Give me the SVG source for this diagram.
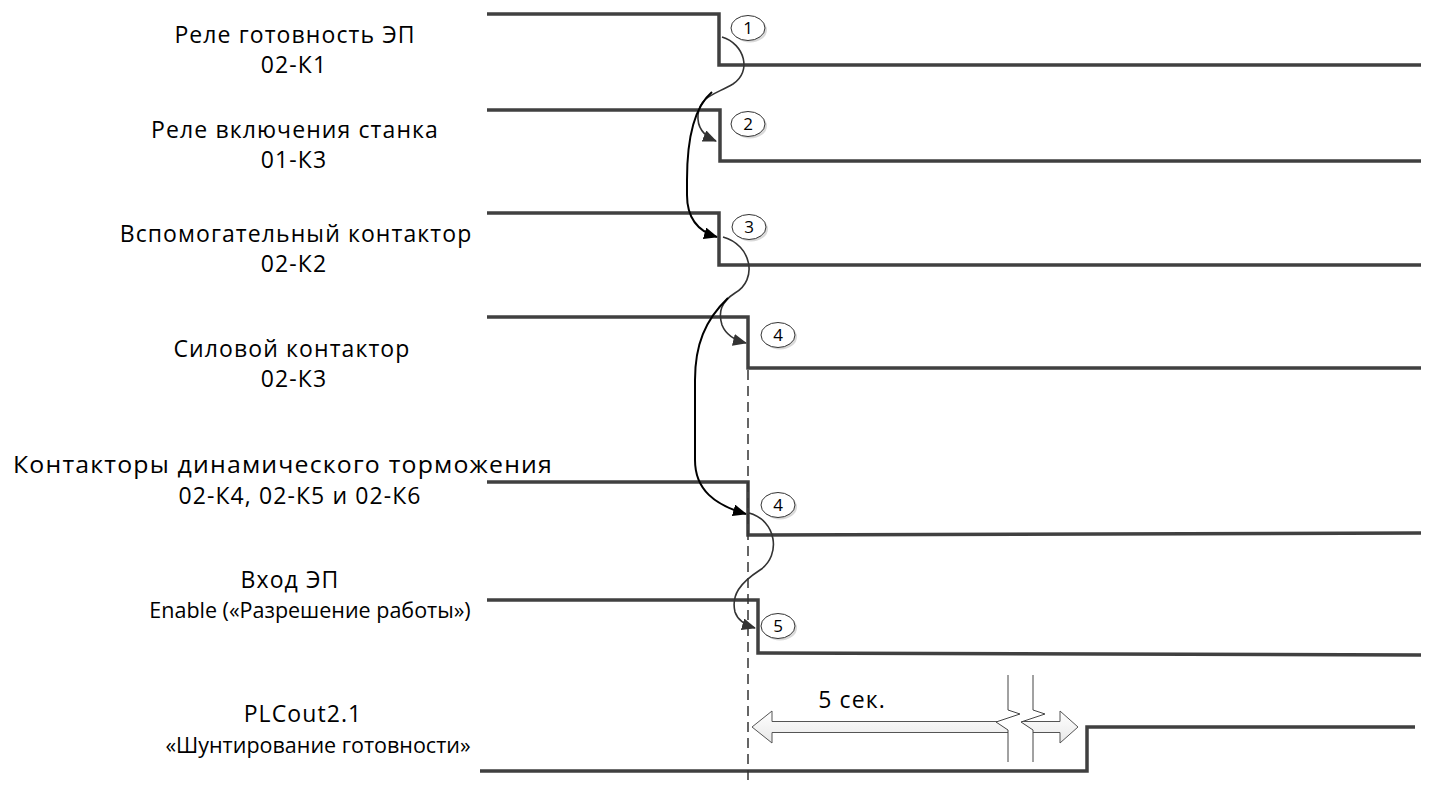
<svg xmlns="http://www.w3.org/2000/svg" width="1429" height="785" viewBox="0 0 1429 785">
<defs>
<style>
.lbl{font-family:"Open Sans","Liberation Sans",sans-serif;font-size:23px;letter-spacing:1.1px;fill:#000;text-anchor:middle}
.lbl2{font-family:"Open Sans","Liberation Sans",sans-serif;font-size:21.5px;fill:#000;text-anchor:middle}
.wave{fill:none;stroke:#404040;stroke-width:3.5;stroke-linejoin:miter}
.num{font-family:"Open Sans","Liberation Sans",sans-serif;font-size:17px;fill:#000;text-anchor:middle}
.circ{fill:#fff;stroke:#333;stroke-width:1}
.shadow{fill:#d9d9d9}
.thin{fill:none;stroke:#333;stroke-width:1.6}
.thick{fill:none;stroke:#000;stroke-width:2}
</style>
<marker id="ahg" markerWidth="14" markerHeight="12" refX="13" refY="6" orient="auto" markerUnits="userSpaceOnUse"><path d="M0,0 L14,6 L0,12 Z" fill="#333"/></marker>
<marker id="ahb" markerWidth="14" markerHeight="12" refX="13" refY="6" orient="auto" markerUnits="userSpaceOnUse"><path d="M0,0 L14,6 L0,12 Z" fill="#000"/></marker>
<linearGradient id="arrg" x1="0" y1="0" x2="0" y2="1"><stop offset="0" stop-color="#ffffff"/><stop offset="1" stop-color="#e8e8e8"/></linearGradient>
</defs>
<rect width="1429" height="785" fill="#fff"/>

<g id="sig1">
<text class="lbl" x="295" y="43">Реле готовность ЭП</text>
<text class="lbl" x="294" y="73">02-К1</text>
<polyline class="wave" points="487,14 719,14 719,65 1421,65"/>
<ellipse class="shadow" cx="750" cy="30" rx="17" ry="12.5"/>
<ellipse class="circ" cx="748" cy="28" rx="17" ry="12.5"/>
<text class="num" x="748" y="34">1</text>
</g>

<g id="sig2">
<text class="lbl" x="295" y="138">Реле включения станка</text>
<text class="lbl" x="294" y="168">01-К3</text>
<polyline class="wave" points="487,110 720,110 720,161 1421,161"/>
<ellipse class="shadow" cx="750" cy="126" rx="17" ry="12.5"/>
<ellipse class="circ" cx="748" cy="124" rx="17" ry="12.5"/>
<text class="num" x="748" y="130">2</text>
</g>

<g id="sig3">
<text class="lbl" x="296" y="242">Вспомогательный контактор</text>
<text class="lbl" x="294" y="272">02-К2</text>
<polyline class="wave" points="487,213 719,213 719,265 1421,265"/>
<ellipse class="shadow" cx="751" cy="229" rx="17" ry="12.5"/>
<ellipse class="circ" cx="749" cy="227" rx="17" ry="12.5"/>
<text class="num" x="749" y="233">3</text>
</g>

<g id="sig4">
<text class="lbl" x="292" y="357">Силовой контактор</text>
<text class="lbl" x="294" y="387">02-К3</text>
<polyline class="wave" points="487,317 748,317 748,368 1421,368"/>
<ellipse class="shadow" cx="780" cy="337" rx="17" ry="12.5"/>
<ellipse class="circ" cx="778" cy="335" rx="17" ry="12.5"/>
<text class="num" x="778" y="341">4</text>
</g>

<g id="sig5">
<text class="lbl" x="283" y="473" textLength="540" lengthAdjust="spacingAndGlyphs">Контакторы динамического торможения</text>
<text class="lbl" x="300" y="504">02-К4, 02-К5 и 02-К6</text>
<polyline class="wave" points="487,482 748,482 748,535 1421,533"/>
<ellipse class="shadow" cx="780" cy="507" rx="17" ry="12.5"/>
<ellipse class="circ" cx="778" cy="505" rx="17" ry="12.5"/>
<text class="num" x="778" y="511">4</text>
</g>

<g id="sig6">
<text class="lbl" x="290" y="588">Вход ЭП</text>
<text class="lbl2" x="310" y="618">Enable («Разрешение работы»)</text>
<polyline class="wave" points="487,600 758,600 758,653 1421,655"/>
<ellipse class="shadow" cx="780" cy="628" rx="17" ry="12.5"/>
<ellipse class="circ" cx="778" cy="626" rx="17" ry="12.5"/>
<text class="num" x="778" y="632">5</text>
</g>

<g id="sig7">
<text class="lbl" x="303" y="722">PLCout2.1</text>
<text class="lbl2" x="318" y="753">«Шунтирование готовности»</text>
<polyline class="wave" points="480,771 1087,771 1087,727 1415,727"/>
</g>

<g id="timing">
<line x1="748" y1="370" x2="748" y2="785" stroke="#333" stroke-width="1.5" stroke-dasharray="10,6"/>
<polygon points="752,727 772,711 772,721.5 1060,721.5 1060,711 1078,727 1060,743 1060,732.5 772,732.5 772,743" fill="url(#arrg)" stroke="#555" stroke-width="1"/>
<polygon points="1008,700 1008,710 1020,714 996,722 1008,730 1008,750 1033,750 1033,730 1021,722 1045,714 1033,710 1033,700" fill="#fff"/>
<polyline points="1008,675 1008,710 1020,714 996,722 1008,730 1008,762" fill="none" stroke="#444" stroke-width="1"/>
<polyline points="1033,675 1033,710 1045,714 1021,722 1033,730 1033,762" fill="none" stroke="#444" stroke-width="1"/>
<text class="lbl" x="852" y="708">5 сек.</text>
</g>

<g id="connectors">
<path class="thin" d="M722,37 C745,44 752,72 733,84 C714,95 700,96 698,115 C697,128 704,136 716,141" marker-end="url(#ahg)"/>
<path class="thick" d="M712,92 C693,108 687,140 687,180 L687,195 C687,220 700,232 717,237" marker-end="url(#ahb)"/>
<path class="thin" d="M723,237 C752,245 758,280 735,293 C721,302 718,312 722,325 C726,335 734,340 746,343" marker-end="url(#ahg)"/>
<path class="thick" d="M728,298 C705,320 695,345 695,380 L695,460 C695,490 715,505 746,514" marker-end="url(#ahb)"/>
<path class="thin" d="M749,513 C776,520 782,555 760,570 C740,583 731,595 735,612 C738,621 745,625 755,628" marker-end="url(#ahg)"/>
</g>
</svg>
